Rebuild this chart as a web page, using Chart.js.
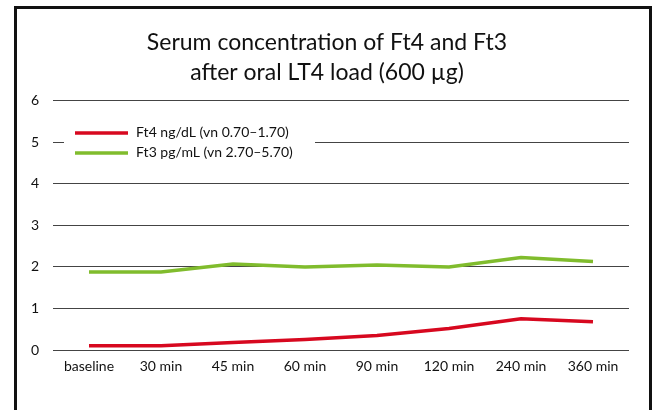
<!DOCTYPE html>
<html>
<head>
<meta charset="utf-8">
<script src="https://cdn.jsdelivr.net/npm/chart.js@4"></script>
<style>
  body { margin: 0; background: #fff; }
  #wrap { position: relative; width: 655px; height: 410px; overflow: hidden; }
  #frame { position: absolute; left: 14px; top: 6px; width: 638px; height: 420px; border: 3px solid #111; box-sizing: border-box; }
  canvas { position: absolute; left: 0; top: 0; }
</style>
</head>
<body>
<div id="wrap">
  <div id="frame"></div>
  <canvas id="chart" width="655" height="410"></canvas>
</div>
<script>
const categories = ['baseline', '30 min', '45 min', '60 min', '90 min', '120 min', '240 min', '360 min'];
const ft4 = [0.10, 0.10, 0.18, 0.25, 0.35, 0.52, 0.75, 0.68];
const ft3 = [1.88, 1.88, 2.07, 2.00, 2.05, 2.00, 2.23, 2.13];
const seriesLabels = ['Ft4 ng/dL (vn 0.70\u20131.70)', 'Ft3 pg/mL (vn 2.70\u20135.70)'];
const titleLines = ['Serum concentration of Ft4 and Ft3', 'after oral LT4 load (600 \u00b5g)'];

const fontFamily = "Lato, 'Open Sans', sans-serif";

// legend inside plot area, with white box over the grid line
const insideLegend = {
  id: 'insideLegend',
  afterDatasetsDraw(chart) {
    const ctx = chart.ctx;
    const area = chart.chartArea;
    ctx.save();
    ctx.fillStyle = '#fff';
    ctx.fillRect(area.left + 11, area.top + 16, 251, 52);
    ctx.font = "14px " + fontFamily;
    ctx.textBaseline = 'middle';
    chart.data.datasets.forEach((ds, i) => {
      const y = area.top + 32 + i * 20;
      ctx.strokeStyle = ds.borderColor;
      ctx.lineWidth = 3.5;
      ctx.beginPath();
      ctx.moveTo(area.left + 22, y);
      ctx.lineTo(area.left + 75, y);
      ctx.stroke();
      ctx.fillStyle = '#111';
      ctx.fillText(ds.label, area.left + 83, y);
    });
    ctx.restore();
  }
};

new Chart(document.getElementById('chart').getContext('2d'), {
  type: 'line',
  data: {
    labels: categories,
    datasets: [{
      label: seriesLabels[0],
      data: ft4,
      borderColor: '#d7081f',
      borderWidth: 3.5,
      pointRadius: 0,
      tension: 0,
      fill: false
    }, {
      label: seriesLabels[1],
      data: ft3,
      borderColor: '#80bc2d',
      borderWidth: 3.5,
      pointRadius: 0,
      tension: 0,
      fill: false
    }]
  },
  options: {
    responsive: false,
    animation: false,
    layout: { padding: { left: 25, right: 26, top: 28, bottom: 36 } },
    plugins: {
      legend: { display: false },
      tooltip: { enabled: false },
      title: {
        display: true,
        text: titleLines,
        color: '#111',
        font: { family: fontFamily, size: 23, weight: 'normal', lineHeight: 1.28 },
        padding: { top: 0, bottom: 14 }
      }
    },
    scales: {
      x: {
        offset: true,
        grid: { display: false, drawTicks: false },
        border: { display: false },
        ticks: { color: '#111', font: { family: fontFamily, size: 14 }, padding: 8, maxRotation: 0, autoSkip: false },
        afterFit(scale) { scale.height = 24; }
      },
      y: {
        min: 0,
        max: 6,
        grid: { color: '#444', lineWidth: 1, drawTicks: false },
        border: { display: false },
        ticks: { stepSize: 1, color: '#111', font: { family: fontFamily, size: 14 }, padding: 14 },
        afterFit(scale) { scale.width = 28; }
      }
    }
  },
  plugins: [insideLegend]
});
</script>
</body>
</html>
